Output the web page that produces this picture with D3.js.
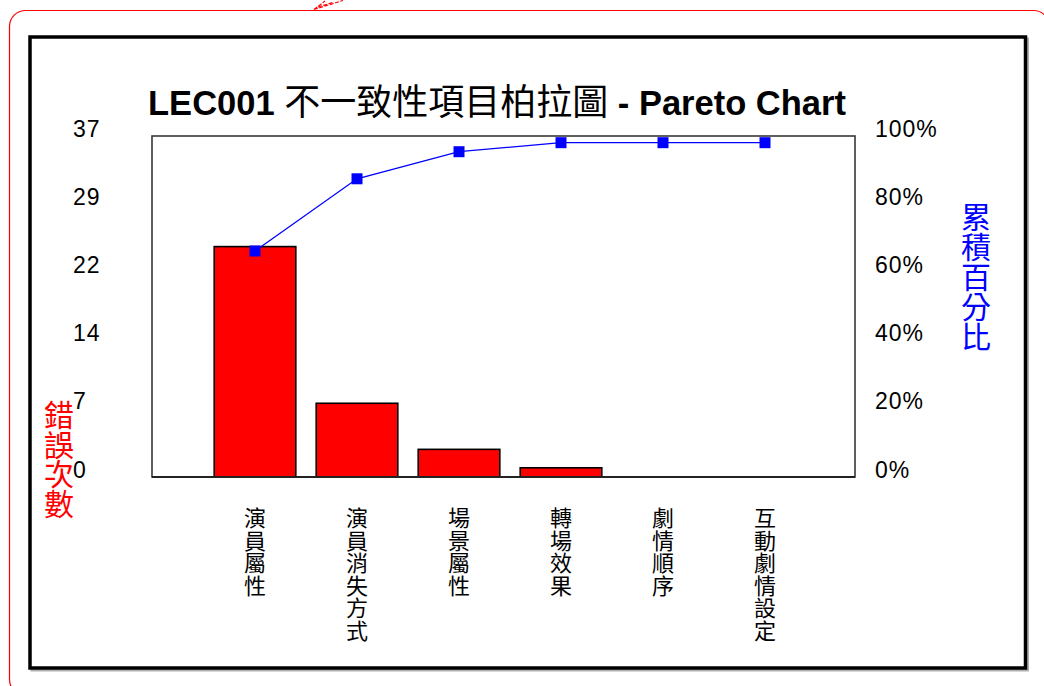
<!DOCTYPE html>
<html>
<head>
<meta charset="utf-8">
<script src="https://cdn.jsdelivr.net/npm/d3@7/dist/d3.min.js"></script>
<style>
  html, body { margin: 0; padding: 0; background: #fff; }
  svg { display: block; }
</style>
</head>
<body>
<svg id="chart" width="1044" height="686"></svg>
<script>
// Pareto data: defect counts per item and the running cumulative share
const categories = ["演員屬性", "演員消失方式", "場景屬性", "轉場效果", "劇情順序", "互動劇情設定"];
const counts = [25, 8, 3, 1, 0, 0];
const cumulativePct = [67.6, 89.2, 97.3, 100, 100, 100];
const countTickLabels = ["0", "7", "14", "22", "29", "37"];
const pctTicks = [0, 20, 40, 60, 80, 100];
const countMax = 37;

const titleLatinA = "LEC001 ";
const titleCJK = "不一致性項目柏拉圖";
const titleLatinB = " - Pareto Chart";
const leftTitle = "錯誤次數";
const rightTitle = "累積百分比";

const svg = d3.select("#chart");
const plot = { left: 152, top: 136, right: 855, bottom: 477 };
const latin = "'Liberation Sans', Arial, sans-serif";
const cjk = "'Noto Sans CJK TC', 'Noto Sans CJK SC', sans-serif";

// outer rounded red border and its callout tip
svg.append("rect")
  .attr("x", 9.5).attr("y", 10.5).attr("width", 1040).attr("height", 685)
  .attr("rx", 16).attr("fill", "none").attr("stroke", "#ff0000").attr("stroke-width", 1.2);
svg.append("path")
  .attr("d", "M314,9.5 L325,1 M314,9.5 L343,0.5 M318,7 L334,2")
  .attr("fill", "none").attr("stroke", "#ff0000").attr("stroke-width", 1.1)
  .attr("stroke-dasharray", "4,1.5");

// chart frame with a soft shadow
svg.append("rect")
  .attr("x", 32).attr("y", 39).attr("width", 995.5).attr("height", 631)
  .attr("fill", "none").attr("stroke", "#b0b0b0").attr("stroke-width", 3);
svg.append("rect")
  .attr("x", 30).attr("y", 37).attr("width", 995.5).attr("height", 631)
  .attr("fill", "#fff").attr("stroke", "#000").attr("stroke-width", 3.5);

// scales
const x = d3.scaleBand().domain(categories).range([204, 816])
  .paddingInner(0.2).paddingOuter(0.1);
const yCount = d3.scaleLinear().domain([0, countMax]).range([plot.bottom, plot.top]);
const yTickSlot = d3.scaleLinear().domain([0, countTickLabels.length - 1]).range([plot.bottom, plot.top]);
const yPctAxis = d3.scaleLinear().domain([0, 100]).range([plot.bottom, plot.top]);
const yPctLine = d3.scaleLinear().domain([0, 102]).range([plot.bottom, plot.top]);

// plot area box
svg.append("rect")
  .attr("x", plot.left).attr("y", plot.top)
  .attr("width", plot.right - plot.left).attr("height", plot.bottom - plot.top)
  .attr("fill", "#fff").attr("stroke", "#383838").attr("stroke-width", 1.6);

// title
const title = svg.append("text")
  .attr("x", 497).attr("y", 115).attr("text-anchor", "middle")
  .attr("fill", "#000");
title.append("tspan").attr("font-family", latin).attr("font-weight", "bold")
  .attr("font-size", 34.5).text(titleLatinA);
title.append("tspan").attr("font-family", cjk).attr("font-weight", "normal")
  .attr("font-size", 36).text(titleCJK);
title.append("tspan").attr("font-family", latin).attr("font-weight", "bold")
  .attr("font-size", 34.5).text(titleLatinB);

// bars
svg.append("g").selectAll("rect")
  .data(categories.map((c, i) => ({ c, v: counts[i] })).filter(d => d.v > 0))
  .join("rect")
  .attr("x", d => x(d.c))
  .attr("y", d => yCount(d.v))
  .attr("width", x.bandwidth())
  .attr("height", d => yCount(0) - yCount(d.v))
  .attr("fill", "#ff0000").attr("stroke", "#000").attr("stroke-width", 1.6);

// baseline
svg.append("line")
  .attr("x1", plot.left).attr("x2", plot.right)
  .attr("y1", plot.bottom).attr("y2", plot.bottom)
  .attr("stroke", "#222").attr("stroke-width", 1.8);

// cumulative line with square markers
const pts = categories.map((c, i) => ({ c, p: cumulativePct[i] }));
const line = d3.line().x(d => x(d.c) + x.bandwidth() / 2).y(d => yPctLine(d.p));
svg.append("path").datum(pts).attr("d", line)
  .attr("fill", "none").attr("stroke", "#0000ff").attr("stroke-width", 1.3);
const ms = 11;
svg.append("g").selectAll("rect").data(pts).join("rect")
  .attr("x", d => x(d.c) + x.bandwidth() / 2 - ms / 2)
  .attr("y", d => yPctLine(d.p) - ms / 2)
  .attr("width", ms).attr("height", ms).attr("fill", "#0000ff");

// left count axis labels (text baseline sits on the tick)
const leftAxis = svg.append("g").attr("transform", "translate(73,0)")
  .call(d3.axisLeft(yTickSlot).tickValues(d3.range(countTickLabels.length))
    .tickSize(0).tickFormat(i => countTickLabels[i]));
leftAxis.select(".domain").remove();
leftAxis.selectAll("text")
  .attr("x", 0).attr("dy", 0).attr("text-anchor", "start")
  .attr("font-family", latin).attr("font-size", 23).attr("letter-spacing", 1)
  .attr("fill", "#000");

// right percentage axis labels
const rightAxis = svg.append("g").attr("transform", "translate(875,0)")
  .call(d3.axisRight(yPctAxis).tickValues(pctTicks).tickSize(0).tickFormat(d => d + "%"));
rightAxis.select(".domain").remove();
rightAxis.selectAll("text")
  .attr("x", 0).attr("dy", 0).attr("text-anchor", "start")
  .attr("font-family", latin).attr("font-size", 23).attr("letter-spacing", 1)
  .attr("fill", "#000");

// category labels stacked vertically, one character per line
const bottomAxis = svg.append("g").attr("transform", "translate(0,526)")
  .call(d3.axisBottom(x).tickSize(0));
bottomAxis.select(".domain").remove();
bottomAxis.selectAll("text").each(function (d) {
  const t = d3.select(this);
  t.text(null).attr("y", 0).attr("dy", null).attr("text-anchor", "middle")
    .attr("font-family", cjk).attr("font-size", 22).attr("fill", "#000");
  Array.from(d).forEach((ch, k) => {
    t.append("tspan").attr("x", 0).attr("y", k * 22.5).text(ch);
  });
});

// vertical axis titles
function verticalTitle(str, cx, y0, step, size, color) {
  const t = svg.append("text").attr("text-anchor", "middle")
    .attr("font-family", cjk).attr("font-size", size).attr("fill", color);
  Array.from(str).forEach((ch, k) => {
    t.append("tspan").attr("x", cx).attr("y", y0 + k * step).text(ch);
  });
}
verticalTitle(leftTitle, 59, 426, 29.5, 30, "#ff0000");
verticalTitle(rightTitle, 976, 228, 30, 30, "#0000ff");
</script>
</body>
</html>
